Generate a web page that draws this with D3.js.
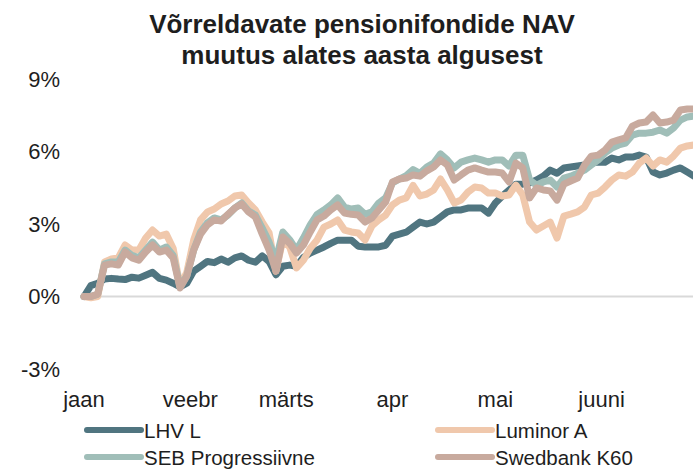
<!DOCTYPE html>
<meta charset="utf-8">
<head>
  <title>Võrreldavate pensionifondide NAV</title>
</head>

<style>
body {
  margin: 0;
  background: #fff;
  font-family: "Liberation Sans", Arial, sans-serif;
}
text {
  fill: #1e1e1e;
}
.title {
  font-size: 26px;
  font-weight: bold;
}
.tick-label {
  font-size: 22px;
}
.legend text {
  font-size: 20.5px;
}
</style>

<body>
  <svg width="693" height="469"></svg>

  <script src="https://cdnjs.cloudflare.com/ajax/libs/d3/7.8.5/d3.min.js"></script>

  <script>
  // every second calendar day
  var dates = [
    "01-01","01-03","01-05","01-07","01-09","01-11","01-13","01-15","01-17","01-19","01-21","01-23","01-25","01-27","01-29","01-31",
    "02-02","02-04","02-06","02-08","02-10","02-12","02-14","02-16","02-18","02-20","02-22","02-24","02-26","02-28",
    "03-02","03-04","03-06","03-08","03-10","03-12","03-14","03-16","03-18","03-20","03-22","03-24","03-26","03-28","03-30",
    "04-01","04-03","04-05","04-07","04-09","04-11","04-13","04-15","04-17","04-19","04-21","04-23","04-25","04-27","04-29",
    "05-01","05-03","05-05","05-07","05-09","05-11","05-13","05-15","05-17","05-19","05-21","05-23","05-25","05-27","05-29","05-31",
    "06-02","06-04","06-06","06-08","06-10","06-12","06-14","06-16","06-18","06-20","06-22","06-24","06-26","06-28"
  ];

  var lhv = [
    0, 0.45, 0.55, 0.72, 0.75, 0.72, 0.7, 0.8, 0.76, 0.88, 1.0, 0.75, 0.68, 0.55, 0.4, 0.55,
    1.05, 1.25, 1.45, 1.4, 1.55, 1.42, 1.6, 1.68, 1.5, 1.42, 1.68, 1.45, 0.9, 1.25,
    1.3, 1.25, 1.62, 1.8, 1.92, 2.05, 2.2, 2.33, 2.33, 2.33, 2.08, 2.05, 2.05, 2.05, 2.12,
    2.5, 2.58, 2.66, 2.87, 3.08, 3.0, 3.08, 3.29, 3.5, 3.58, 3.58, 3.66, 3.66, 3.66, 3.45,
    3.87, 4.15, 4.4, 4.65, 4.65, 4.7, 4.82, 4.98, 5.23, 5.1, 5.32, 5.36, 5.4, 5.44, 5.52, 5.56,
    5.56, 5.73, 5.65, 5.77, 5.77, 5.85, 5.77, 5.15, 5.03, 5.11, 5.23, 5.32, 5.15, 4.98
  ];

  var luminor = [
    0, -0.05, 0, 1.43, 1.55, 1.6, 2.13, 1.92, 1.92, 2.42, 2.75, 2.5, 2.58, 2.0, 0.43, 1.0,
    2.34, 3.17, 3.5, 3.62, 3.83, 3.95, 4.16, 4.2, 3.87, 3.58, 3.08, 2.63, 1.05, 2.34,
    2.05, 1.18, 1.5, 2.0, 2.34, 2.87, 3.0, 3.17, 2.75, 2.67, 2.63, 2.34, 2.92, 3.17, 3.37,
    3.79, 3.99, 4.08, 4.6, 4.16, 4.24, 4.41, 4.86, 4.41, 3.87, 3.99, 4.32, 4.53, 4.49, 4.28,
    4.28, 4.16, 4.2, 4.61, 4.2, 3.08, 2.75, 2.92, 3.08, 2.42, 3.33, 3.41, 3.5, 3.7, 4.2, 4.28,
    4.53, 4.82, 5.03, 4.98, 5.15, 5.52, 5.73, 5.4, 5.65, 5.56, 5.81, 6.14, 6.23, 6.27
  ];

  var seb = [
    0, 0, 0.1, 1.35, 1.43, 1.43, 1.92, 1.7, 1.6, 1.92, 2.25, 1.92, 2.05, 1.7, 0.4, 0.85,
    1.92, 2.67, 3.05, 3.25, 3.17, 3.37, 3.66, 3.87, 3.54, 3.37, 2.83, 2.25, 1.5, 2.67,
    2.35, 1.92, 2.42, 2.96, 3.4, 3.58, 3.79, 4.08, 3.7, 3.62, 3.66, 3.4, 3.5, 3.87, 4.08,
    4.7, 4.86, 5.0, 5.25, 5.1, 5.36, 5.52, 5.9, 5.65, 5.32, 5.56, 5.65, 5.73, 5.65, 5.56,
    5.65, 5.65, 5.4, 5.85, 5.85, 4.82, 4.61, 4.74, 4.82, 4.53, 4.9, 4.98, 5.1, 5.23, 5.44, 5.65,
    5.94, 6.14, 6.27, 6.35, 6.68, 6.76, 6.76, 6.8, 6.89, 6.76, 6.97, 7.3, 7.43, 7.47
  ];

  var swedbank = [
    0, 0, 0.1, 1.3, 1.35, 1.3, 1.84, 1.6, 1.5, 1.84, 2.13, 1.84, 1.92, 1.6, 0.35, 0.85,
    1.92, 2.58, 2.96, 3.17, 3.12, 3.4, 3.66, 3.83, 3.5, 3.29, 2.58, 1.92, 1.05, 2.46,
    2.2, 1.8, 2.13, 2.67, 3.17, 3.33, 3.58, 3.79, 3.45, 3.4, 3.37, 3.08, 3.25, 3.58, 3.91,
    4.74, 4.86, 4.9, 5.03, 4.98, 5.2, 5.36, 5.65, 5.44, 4.82, 5.03, 5.23, 5.32, 5.23, 5.15,
    5.15, 5.11, 4.74, 5.52, 5.32, 4.08, 4.49, 4.41, 4.37, 3.99, 4.65, 4.78, 4.9, 5.44, 5.81, 5.85,
    6.06, 6.39, 6.48, 6.56, 7.05, 7.18, 7.22, 7.51, 7.18, 7.22, 7.3, 7.72, 7.76, 7.76
  ];

  var seriesNames = ["LHV L", "Luminor A", "SEB Progressiivne", "Swedbank K60"];
  var seriesColors = ["#507580", "#f0c8ac", "#a0beb8", "#c8aa9e"];
  var yTicks = [-3, 0, 3, 6, 9];
  var monthLabels = ["jaan", "veebr", "märts", "apr", "mai", "juuni"];
  var monthStarts = ["01-01", "02-01", "03-01", "04-01", "05-01", "06-01"];

  var parse = d3.timeParse("%m-%d");
  var allValues = [lhv, luminor, seb, swedbank];

  var series = seriesNames.map(function(name, i) {
    return {
      name: name,
      color: seriesColors[i],
      values: dates.map(function(d, j) {
        return { date: parse(d), value: allValues[i][j] };
      })
    };
  });

  var svg = d3.select("svg");

  var x = d3.scaleTime()
    .domain([parse("01-01"), parse("06-30")])
    .range([84, 701]);

  var y = d3.scaleLinear()
    .domain([-3, 9])
    .range([369, 79]);

  // title
  svg.append("text")
    .attr("class", "title")
    .attr("x", 362)
    .attr("y", 33)
    .attr("text-anchor", "middle")
    .text("Võrreldavate pensionifondide NAV");

  svg.append("text")
    .attr("class", "title")
    .attr("x", 362)
    .attr("y", 64)
    .attr("text-anchor", "middle")
    .text("muutus alates aasta algusest");

  // y labels
  svg.selectAll("text.ylab")
    .data(yTicks)
    .enter()
    .append("text")
    .attr("class", "tick-label ylab")
    .attr("x", 60)
    .attr("y", function(d) { return y(d); })
    .attr("dy", "0.36em")
    .attr("text-anchor", "end")
    .text(function(d) { return d + "%"; });

  // x labels
  svg.selectAll("text.xlab")
    .data(monthLabels)
    .enter()
    .append("text")
    .attr("class", "tick-label xlab")
    .attr("x", function(d, i) { return x(parse(monthStarts[i])); })
    .attr("y", 407)
    .attr("text-anchor", "middle")
    .text(function(d) { return d; });

  // zero line
  svg.append("line")
    .attr("x1", x(parse("01-01")))
    .attr("x2", 693)
    .attr("y1", y(0))
    .attr("y2", y(0))
    .style("stroke", "#d9d9d9")
    .style("stroke-width", 2);

  svg.append("clipPath")
    .attr("id", "plot-clip")
    .append("rect")
    .attr("x", 0)
    .attr("y", 0)
    .attr("width", 693)
    .attr("height", 469);

  var line = d3.line()
    .x(function(d) { return x(d.date); })
    .y(function(d) { return y(d.value); });

  svg.append("g")
    .attr("clip-path", "url(#plot-clip)")
    .selectAll("path")
    .data(series)
    .enter()
    .append("path")
    .attr("d", function(d) { return line(d.values); })
    .style("fill", "none")
    .style("stroke", function(d) { return d.color; })
    .style("stroke-width", 7)
    .style("stroke-linejoin", "round")
    .style("stroke-linecap", "round");

  // legend, two columns
  var legend = svg.append("g")
    .attr("class", "legend")
    .selectAll("g")
    .data(series)
    .enter()
    .append("g")
    .attr("transform", function(d, i) {
      return "translate(" + (i % 2 === 0 ? 87 : 438) + "," + (i < 2 ? 430 : 457) + ")";
    });

  legend.append("line")
    .attr("x1", 0)
    .attr("x2", 54)
    .style("stroke", function(d) { return d.color; })
    .style("stroke-width", 6)
    .style("stroke-linecap", "round");

  legend.append("text")
    .attr("x", 57)
    .attr("y", 8)
    .text(function(d) { return d.name; });

  </script>
</body>
</html>
